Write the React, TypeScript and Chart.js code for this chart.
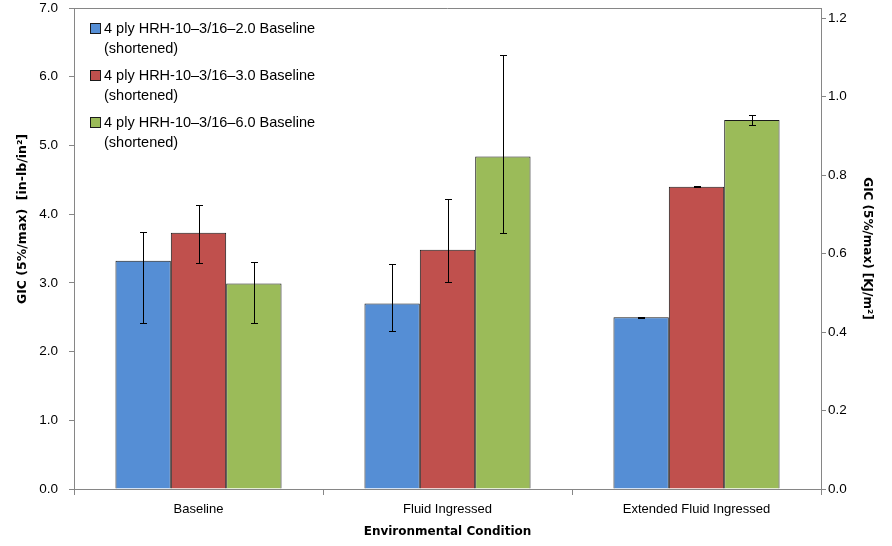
import React, { useEffect, useRef } from "react";
import { Chart, registerables } from "chart.js";

Chart.register(...registerables);

const categories = ["Baseline", "Fluid Ingressed", "Extended Fluid Ingressed"];
const seriesNames = [
  ["4 ply HRH-10\u20133/16\u20132.0 Baseline", "(shortened)"],
  ["4 ply HRH-10\u20133/16\u20133.0 Baseline", "(shortened)"],
  ["4 ply HRH-10\u20133/16\u20136.0 Baseline", "(shortened)"],
];
const seriesColors = ["#558ED5", "#C0504D", "#9BBB59"];
const s1Values = [3.32, 2.7, 2.5];
const s2Values = [3.73, 3.48, 4.4];
const s3Values = [2.99, 4.84, 5.37];
const s1Low = [2.42, 2.3, 2.49];
const s1High = [3.745, 3.27, 2.51];
const s2Low = [3.29, 3.01, 4.39];
const s2High = [4.13, 4.22, 4.41];
const s3Low = [2.41, 3.72, 5.3];
const s3High = [3.3, 6.31, 5.45];
const leftMax = 7;
const kjPerInLb = 0.175127;
const leftTitle = "GIC (5%/max)  [in-lb/in\u00b2]";
const rightTitle = "GIC (5%/max) [KJ/m\u00b2]";
const xTitle = "Environmental Condition";

const FONT = "'Liberation Sans', Arial, sans-serif";
const TFONT = "'DejaVu Sans', sans-serif";
const AXIS = "#868686";

export default function App() {
  const ref = useRef<HTMLCanvasElement>(null);
  useEffect(() => {
    if (!ref.current) return;
    const lows = [s1Low, s2Low, s3Low];
    const highs = [s1High, s2High, s3High];
    const errPlugin = {
      id: "errbars",
      afterDatasetsDraw(chart: any) {
        const ctx = chart.ctx;
        const y = chart.scales.y;
        ctx.save();
        ctx.strokeStyle = "#000";
        ctx.lineWidth = 1;
        chart.data.datasets.forEach((_: any, di: number) => {
          const meta = chart.getDatasetMeta(di);
          meta.data.forEach((bar: any, i: number) => {
            const x = Math.round(bar.x) + 0.5;
            const yl = Math.round(y.getPixelForValue(lows[di][i])) + 0.5;
            const yh = Math.round(y.getPixelForValue(highs[di][i])) + 0.5;
            ctx.beginPath();
            ctx.moveTo(x, yl);
            ctx.lineTo(x, yh);
            ctx.moveTo(x - 3.5, yl);
            ctx.lineTo(x + 3.5, yl);
            ctx.moveTo(x - 3.5, yh);
            ctx.lineTo(x + 3.5, yh);
            ctx.stroke();
          });
        });
        ctx.restore();
      },
    };
    const borderPlugin = {
      id: "topborder",
      afterDraw(chart: any) {
        const { ctx, chartArea } = chart;
        ctx.save();
        ctx.strokeStyle = AXIS;
        ctx.lineWidth = 1;
        ctx.beginPath();
        ctx.moveTo(chartArea.left, chartArea.top + 0.5);
        ctx.lineTo(chartArea.right, chartArea.top + 0.5);
        ctx.stroke();
        // left axis title (Excel places it slightly above centre)
        ctx.translate(23, 219);
        ctx.rotate(-Math.PI / 2);
        ctx.fillStyle = "#000";
        ctx.font = "bold 12.5px " + TFONT;
        ctx.textAlign = "center";
        ctx.textBaseline = "middle";
        ctx.fillText(leftTitle, 0, 0);
        ctx.restore();
      },
    };
    const values = [s1Values, s2Values, s3Values];
    const chart = new Chart(ref.current, {
      type: "bar",
      data: {
        labels: categories,
        datasets: values.map((v, i) => ({
          label: seriesNames[i].join(" "),
          data: v,
          backgroundColor: seriesColors[i],
          borderColor: "#1a1a1a",
          borderWidth: 1,
          categoryPercentage: 0.667,
          barPercentage: 1,
          yAxisID: "y",
        })),
      },
      options: {
        animation: false,
        responsive: false,
        maintainAspectRatio: false,
        layout: { padding: { top: 8, left: 0, right: 0, bottom: 0 } },
        plugins: { legend: { display: false }, tooltip: { enabled: false } },
        scales: {
          x: {
            grid: { offset: true, drawOnChartArea: false, drawTicks: true, tickLength: 6, color: AXIS },
            border: { color: AXIS },
            ticks: { color: "#000", font: { family: FONT, size: 13 }, padding: 7 },
            title: {
              display: true,
              text: xTitle,
              color: "#000",
              font: { family: TFONT, size: 12, weight: "bold" },
              padding: 7,
            },
            afterFit(s: any) {
              s.height = 57;
              s.paddingLeft = 0;
              s.paddingRight = 0;
            },
          },
          y: {
            position: "left",
            min: 0,
            max: leftMax,
            ticks: {
              stepSize: 1,
              color: "#000",
              font: { family: FONT, size: 13.5 },
              padding: 11,
              callback: (v: any) => Number(v).toFixed(1),
            },
            grid: { drawOnChartArea: false, drawTicks: true, tickLength: 5, color: AXIS },
            border: { color: AXIS },
            title: { display: false },
            afterFit(s: any) {
              s.width = 74;
              s.paddingTop = 0;
              s.paddingBottom = 0;
            },
          },
          y2: {
            position: "right",
            display: true,
            min: 0,
            max: leftMax * kjPerInLb,
            ticks: {
              stepSize: 0.2,
              includeBounds: false,
              color: "#000",
              font: { family: FONT, size: 13.5 },
              padding: 2,
              callback: (v: any) => Number(v).toFixed(1),
            },
            grid: { drawOnChartArea: false, drawTicks: true, tickLength: 5, color: AXIS },
            border: { color: AXIS },
            title: {
              display: true,
              text: rightTitle,
              color: "#000",
              font: { family: TFONT, size: 12, weight: "bold" },
              padding: 18,
            },
            afterFit(s: any) {
              s.width = 71;
              s.paddingTop = 0;
              s.paddingBottom = 0;
            },
          },
        },
      },
      plugins: [errPlugin, borderPlugin],
    });
    return () => chart.destroy();
  }, []);

  return (
    <div style={{ position: "absolute", left: 0, top: 0, width: 892, height: 546, background: "#fff" }}>
      <canvas ref={ref} width={892} height={546} style={{ display: "block" }} />
      <div style={{ position: "absolute", left: 90, top: 18, fontFamily: FONT, fontSize: 14.5, color: "#000" }}>
        {seriesNames.map((lines, i) => (
          <div key={i} style={{ position: "relative", height: 47 }}>
            <div
              style={{
                position: "absolute",
                left: 0,
                top: 5,
                width: 9,
                height: 9,
                background: seriesColors[i],
                border: "1px solid #1a1a1a",
              }}
            />
            <div style={{ position: "absolute", left: 14, top: 0, lineHeight: "20px", whiteSpace: "nowrap" }}>
              {lines.map((l, j) => (
                <div key={j}>{l}</div>
              ))}
            </div>
          </div>
        ))}
      </div>
    </div>
  );
}
